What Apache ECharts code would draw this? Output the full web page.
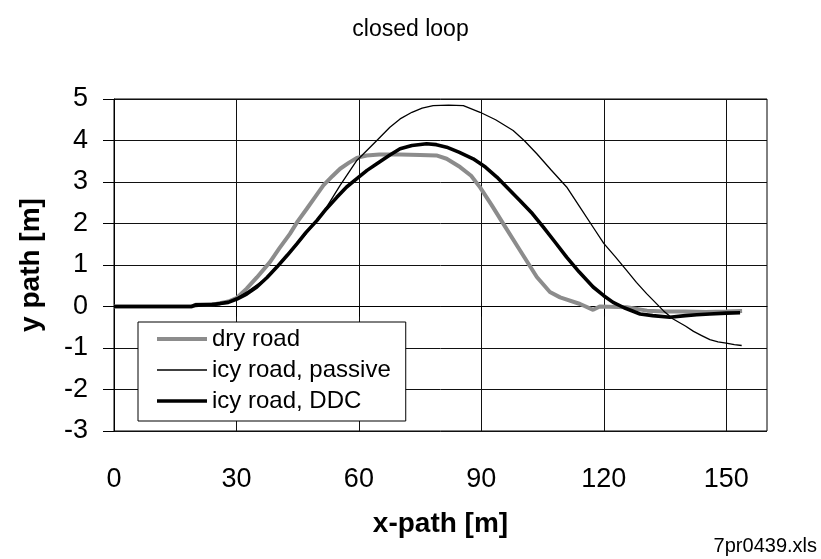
<!DOCTYPE html>
<html><head><meta charset="utf-8">
<script src="https://cdn.jsdelivr.net/npm/echarts@6/dist/echarts.min.js"></script>
<style>html,body{margin:0;padding:0;background:#fff}#c{width:821px;height:559px}</style>
</head><body><div id="c"></div>
<script>
const titleText = 'closed loop';
const fileText = '7pr0439.xls';
const seriesNames = ['dry road', 'icy road, passive', 'icy road, DDC'];
const xTicks = [0, 30, 60, 90, 120, 150];

const dryX = [0, 10, 19, 20, 25, 28, 30, 32.5, 35, 38.2, 40.5, 43.1, 45, 47.2, 49, 51.3, 53.5, 55.4, 57.5, 59.5, 61.9, 65, 70, 75, 79, 81.5, 84.8, 87.5, 89.7, 92.5, 95.4, 99.5, 103.6, 106.8, 109.3, 114.2, 117.4, 119, 125.7, 130.6, 135, 140, 145, 150, 153.9];
const dryY = [0, 0, 0, 0.04, 0.06, 0.12, 0.2, 0.43, 0.7, 1.07, 1.4, 1.75, 2.05, 2.35, 2.6, 2.92, 3.14, 3.32, 3.46, 3.58, 3.64, 3.66, 3.66, 3.65, 3.64, 3.56, 3.36, 3.15, 2.87, 2.45, 1.99, 1.35, 0.71, 0.35, 0.22, 0.06, -0.08, 0.0, -0.02, -0.1, -0.12, -0.12, -0.13, -0.12, -0.11];

const passiveX = [0, 10, 20, 25, 28, 30, 33, 36.6, 41.5, 46.4, 51.3, 55.4, 59.5, 64.4, 67.6, 70.1, 73, 75.5, 78.2, 82, 85.6, 89.7, 93.5, 97.8, 100.5, 103.6, 107, 110.9, 114, 117.4, 120, 122.8, 125.6, 128, 130.5, 134.6, 137, 140, 142, 144, 146, 148, 150, 152, 153.8];
const passiveY = [0, 0, 0, 0.04, 0.1, 0.2, 0.38, 0.63, 1.11, 1.67, 2.27, 2.92, 3.52, 4.0, 4.32, 4.52, 4.68, 4.78, 4.84, 4.85, 4.84, 4.68, 4.5, 4.24, 4.0, 3.68, 3.3, 2.88, 2.42, 1.91, 1.52, 1.2, 0.87, 0.58, 0.31, -0.1, -0.3, -0.47, -0.6, -0.7, -0.8, -0.85, -0.88, -0.92, -0.94];

const ddcX = [0, 10, 19, 20, 24, 26, 28, 30.1, 32.5, 35, 37.5, 39.9, 42.5, 44.8, 47, 49.7, 52, 54.6, 57, 59.5, 62, 64.4, 67.6, 70.1, 73, 76.6, 79, 81.5, 84.5, 88, 91, 93.8, 96.5, 99.5, 102.5, 105.2, 108, 110.9, 114, 117.4, 120, 122.3, 125, 128.9, 132, 136.2, 140, 142.8, 146, 150, 153.4];
const ddcY = [0, 0, 0, 0.04, 0.05, 0.07, 0.1, 0.18, 0.3, 0.47, 0.7, 0.95, 1.24, 1.51, 1.78, 2.07, 2.35, 2.63, 2.88, 3.08, 3.28, 3.44, 3.65, 3.8, 3.88, 3.92, 3.9, 3.84, 3.72, 3.56, 3.36, 3.12, 2.85, 2.55, 2.24, 1.91, 1.56, 1.19, 0.83, 0.47, 0.26, 0.1, -0.03, -0.18, -0.22, -0.26, -0.22, -0.2, -0.18, -0.16, -0.15];

function pairs(xs, ys) { return xs.map((x, i) => [x, ys[i]]); }

const FF = '"Liberation Sans", Arial, Helvetica, sans-serif';
const chart = echarts.init(document.getElementById('c'), null, {renderer: 'canvas'});
chart.setOption({
  animation: false,
  backgroundColor: '#fff',
  textStyle: {fontFamily: FF},
  title: {
    text: titleText, left: 'center', top: 13,
    textStyle: {fontSize: 23, fontWeight: 'normal', color: '#000', fontFamily: FF}
  },
  graphic: [{
    type: 'text', right: 4, top: 536,
    style: {text: fileText, fontSize: 20, fill: '#000', fontFamily: FF}
  }],
  grid: {
    left: 114, right: 54, top: 99, bottom: 128,
    show: true, borderColor: '#000', borderWidth: 1,
    containLabel: false, outerBoundsMode: 'none'
  },
  legend: {
    left: 138, top: 322, orient: 'vertical',
    padding: [5, 15, 8, 19], itemGap: 7, itemWidth: 50, itemHeight: 14,
    borderColor: '#000', borderWidth: 1, backgroundColor: '#fff',
    itemStyle: {borderWidth: 0},
    textStyle: {fontSize: 24, color: '#000', fontFamily: FF},
    data: [
      {name: seriesNames[0], icon: 'path://M0,0H50V4H0Z'},
      {name: seriesNames[1], icon: 'path://M0,0H50V1.3H0Z'},
      {name: seriesNames[2], icon: 'path://M0,0H50V3.6H0Z'}
    ]
  },
  xAxis: {
    type: 'value', min: 0, max: 160, interval: 30,
    name: 'x-path [m]', nameLocation: 'middle', nameGap: 79,
    nameTextStyle: {fontSize: 28, fontWeight: 'bold', color: '#000', fontFamily: FF},
    axisLine: {show: true, lineStyle: {color: '#000', width: 1}},
    axisTick: {show: true, inside: false, length: 10, lineStyle: {color: '#000'}, customValues: xTicks},
    axisLabel: {fontSize: 27, color: '#000', margin: 35, fontFamily: FF, customValues: xTicks},
    splitLine: {show: true, lineStyle: {color: '#111', width: 1}}
  },
  yAxis: {
    type: 'value', min: -3, max: 5, interval: 1,
    name: 'y path [m]', nameLocation: 'middle', nameGap: 69,
    nameTextStyle: {fontSize: 28, fontWeight: 'bold', color: '#000', fontFamily: FF},
    axisLine: {show: true, lineStyle: {color: '#000', width: 1}},
    axisTick: {show: true, inside: false, length: 11, lineStyle: {color: '#000'}},
    axisLabel: {fontSize: 27, color: '#000', margin: 26, fontFamily: FF},
    splitLine: {show: true, lineStyle: {color: '#111', width: 1}}
  },
  series: [
    {
      name: seriesNames[0], type: 'line', symbol: 'none', smooth: false,
      data: pairs(dryX, dryY),
      itemStyle: {color: '#8c8c8c'},
      lineStyle: {color: '#8c8c8c', width: 4}
    },
    {
      name: seriesNames[1], type: 'line', symbol: 'none', smooth: false,
      data: pairs(passiveX, passiveY),
      itemStyle: {color: '#000'},
      lineStyle: {color: '#000', width: 1.3}
    },
    {
      name: seriesNames[2], type: 'line', symbol: 'none', smooth: false,
      data: pairs(ddcX, ddcY),
      itemStyle: {color: '#000'},
      lineStyle: {color: '#000', width: 3.6}
    }
  ]
});
</script>
</body></html>
